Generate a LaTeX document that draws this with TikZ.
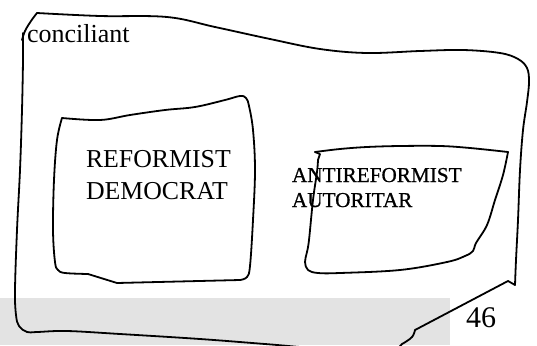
\documentclass[tikz,border=0pt]{standalone}
\usepackage{fontspec}
\setmainfont{Liberation Serif}
\newfontfamily\heavyserif[FakeBold=0.8]{Liberation Serif}
\definecolor{bandgray}{RGB}{227,227,227}
\begin{document}
\begin{tikzpicture}[x=1pt,y=-1pt,
  sketch/.style={draw=black,line width=1.8pt,line cap=round,line join=round},
  lbl/.style={inner sep=0pt,outer sep=0pt,anchor=base west,text=black}]
\useasboundingbox (0,0) rectangle (537,345);
\clip (0,0) rectangle (537,345);
% grey band
\fill[bandgray] (0,298) rectangle (450,345);
% outer shape
\draw[sketch] plot[smooth,tension=0.6] coordinates {(22,40) (25,31) (31,21) (37,13)};
\draw[sketch] plot[smooth,tension=0.6] coordinates {(37,13) (100,16) (167,17) (215,27) (270,39) (320,49) (367,53) (420,51) (463,50) (500,53) (518,59) (527,68) (529,82) (527,102) (523,130) (520,170) (518,220) (516,260) (515,285)};
\draw[sketch] (515,285) -- (508,281) -- (415,330);
\draw[sketch] plot[smooth,tension=0.6] coordinates {(415,330) (412,337) (402,344) (390,349) (330,349) (265,344) (200,339) (120,334) (67,331) (37,332) (27,332) (19,326) (16,315) (15,290) (17,230) (20,170) (22,110) (23,60) (23,33)};
% left inner box
\draw[sketch] plot[smooth,tension=0.6] coordinates {(62,118) (100,120) (130,115) (165,110) (195,107) (225,100) (240,96) (246,98) (249,106) (253,130) (255,170) (253,220) (250,266) (247,277) (240,280)};
\draw[sketch] (240,280) -- (117,283) -- (88,274);
\draw[sketch] plot[smooth,tension=0.6] coordinates {(88,274) (65,273) (58,270) (55,262) (53,230) (54,180) (57,140) (62,118)};
% right inner box
\draw[sketch] plot[smooth,tension=0.6] coordinates {(508,152) (470,148) (440,146) (400,146) (367,147) (340,149) (315,152)};
\draw[sketch] (315,152) -- (320,154) -- (318,160);
\draw[sketch] plot[smooth,tension=0.6] coordinates {(318,160) (317,172) (313,200) (309,240) (307,252) (305,262) (308,270) (318,273) (340,273) (400,270) (447,262) (465,256) (473,251) (476,243) (487,225) (495,200) (503,175) (508,152)};
% texts
\node[lbl,font=\fontsize{26}{26}\selectfont] (conc) at (27,43) {conciliant};
\node[lbl,font=\fontsize{25.8}{26}\selectfont] (ref) at (86,167) {REFORMIST};
\node[lbl,font=\fontsize{25.8}{26}\selectfont] (dem) at (86,199) {DEMOCRAT};
\node[lbl,font=\heavyserif\fontsize{21.2}{22}\selectfont] (anti) at (292,182) {ANTIREFORMIST};
\node[lbl,font=\heavyserif\fontsize{21.2}{22}\selectfont] (aut) at (292,207) {AUTORITAR};
\node[lbl,font=\fontsize{30}{30}\selectfont] (pg) at (466,327) {46};
\end{tikzpicture}
\end{document}
